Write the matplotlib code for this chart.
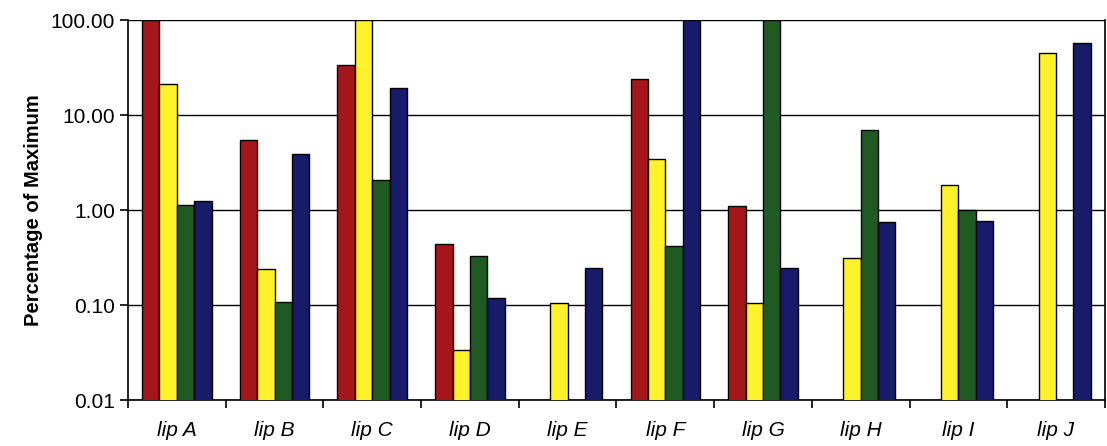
import numpy as np
import matplotlib.pyplot as plt

plt.rcParams['font.family'] = ['Liberation Sans', 'DejaVu Sans']

categories = ['lip A', 'lip B', 'lip C', 'lip D', 'lip E',
              'lip F', 'lip G', 'lip H', 'lip I', 'lip J']

nan = np.nan
red_vals = [100, 5.5, 34, 0.44, nan, 24, 1.1, nan, nan, nan]
yellow_vals = [21, 0.24, 100, 0.034, 0.105, 3.45, 0.105, 0.31, 1.83, 45]
green_vals = [1.13, 0.107, 2.07, 0.33, nan, 0.42, 100, 7.0, 1.0, nan]
blue_vals = [1.24, 3.9, 19.5, 0.12, 0.245, 100, 0.245, 0.75, 0.77, 58]

series = [red_vals, yellow_vals, green_vals, blue_vals]
colors = ['#A5161A', '#FFF22A', '#1F5A22', '#171B6A']

fig = plt.figure(figsize=(11.07, 4.46), dpi=100)
ax = fig.add_axes([0.1156, 0.103, 0.8825, 0.852])

x = np.arange(len(categories))
w = 0.178
for i, (vals, c) in enumerate(zip(series, colors)):
    ax.bar(x + (i - 1.5) * w, vals, w, color=c, edgecolor='black',
           linewidth=1.0, zorder=3)

ax.set_yscale('log')
ax.set_ylim(0.01, 100)
ax.set_xlim(-0.5, len(categories) - 0.5)

yt = [0.01, 0.1, 1, 10, 100]
ax.set_yticks(yt)
ax.set_yticklabels(['%.2f' % v for v in yt], fontsize=15)
ax.yaxis.set_minor_locator(plt.NullLocator())
ax.grid(axis='y', color='black', linewidth=1.0, zorder=0)

ax.set_xticks(x)
ax.set_xticklabels(categories, fontsize=15, style='italic')
ax.set_xticks(np.arange(len(categories) + 1) - 0.5, minor=True)
ax.tick_params(axis='x', which='major', length=0, pad=15)
ax.tick_params(axis='x', which='minor', length=6, width=1.2, direction='out')
ax.tick_params(axis='y', length=6, width=1.2, direction='out')

for s in ax.spines.values():
    s.set_linewidth(1.2)
ax.spines['top'].set_visible(False)

ax.set_ylabel('Percentage of Maximum', fontsize=14.5, fontweight='bold', labelpad=5)

fig.savefig('out.png', dpi=100)
